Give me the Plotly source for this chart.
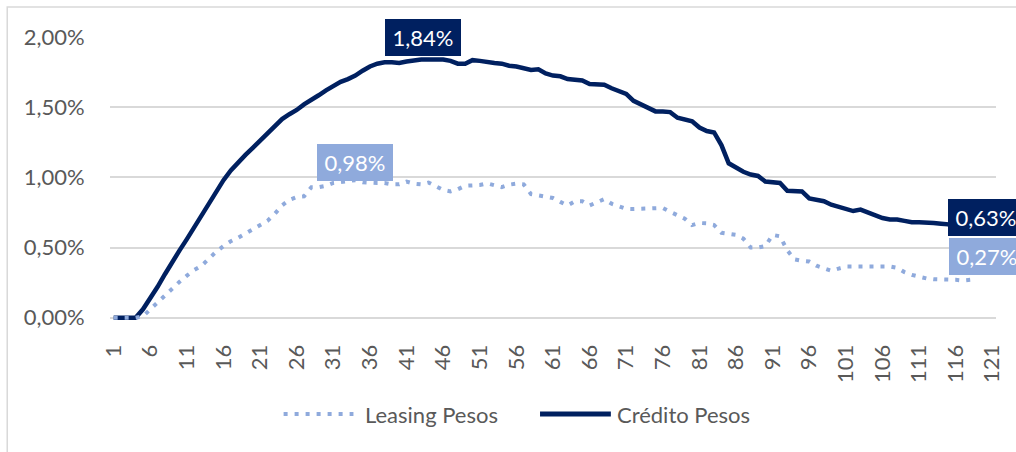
import plotly.graph_objects as go

# ---- data (values in %) ----
credito_pesos = [
    0, 0, 0, 0, 0.06, 0.135, 0.22, 0.31, 0.40, 0.48,
    0.56, 0.645, 0.73, 0.82, 0.89, 0.98, 1.05, 1.11, 1.16, 1.21,
    1.26, 1.31, 1.36, 1.415, 1.45, 1.48, 1.52, 1.55, 1.585, 1.62,
    1.65, 1.68, 1.70, 1.725, 1.76, 1.79, 1.81, 1.82, 1.82, 1.815,
    1.825, 1.835, 1.84, 1.84, 1.84, 1.84, 1.83, 1.81, 1.81, 1.835,
    1.83, 1.82, 1.815, 1.81, 1.795, 1.79, 1.775, 1.765, 1.77, 1.74,
    1.725, 1.72, 1.70, 1.695, 1.69, 1.665, 1.66, 1.66, 1.635, 1.615,
    1.595, 1.545, 1.52, 1.50, 1.47, 1.47, 1.465, 1.425, 1.41, 1.40,
    1.355, 1.33, 1.32, 1.23, 1.10, 1.07, 1.04, 1.02, 1.01, 0.97,
    0.965, 0.96, 0.905, 0.90, 0.90, 0.85, 0.837, 0.83, 0.805, 0.79,
    0.78, 0.76, 0.77, 0.75, 0.735, 0.71, 0.70, 0.70, 0.69, 0.68,
    0.68, 0.68, 0.675, 0.67, 0.665, 0.63,
]
leasing_pesos = [
    0, 0, 0, 0, 0.01, 0.06, 0.115, 0.165, 0.215, 0.256,
    0.30, 0.34, 0.37, 0.42, 0.47, 0.51, 0.545, 0.57, 0.60, 0.636,
    0.66, 0.69, 0.74, 0.80, 0.84, 0.86, 0.865, 0.93, 0.93, 0.94,
    0.96, 0.965, 0.97, 0.98, 0.965, 0.96, 0.96, 0.96, 0.95, 0.95,
    0.97, 0.955, 0.95, 0.963, 0.935, 0.91, 0.90, 0.915, 0.94, 0.94,
    0.945, 0.957, 0.945, 0.93, 0.948, 0.955, 0.95, 0.88, 0.872, 0.865,
    0.853, 0.825, 0.80, 0.83, 0.83, 0.80, 0.82, 0.845, 0.812, 0.79,
    0.775, 0.774, 0.776, 0.782, 0.784, 0.782, 0.755, 0.73, 0.705, 0.66,
    0.675, 0.672, 0.66, 0.605, 0.60, 0.59, 0.563, 0.50, 0.50, 0.51,
    0.59, 0.58, 0.48, 0.415, 0.405, 0.40, 0.37, 0.355, 0.335, 0.35,
    0.364, 0.364, 0.364, 0.364, 0.366, 0.369, 0.365, 0.355, 0.325, 0.305,
    0.29, 0.28, 0.274, 0.274, 0.273, 0.27, 0.265, 0.27,
]
credito_x = list(range(1, len(credito_pesos) + 1))
leasing_x = list(range(1, len(leasing_pesos) + 1))

x_tick_vals = list(range(1, 122, 5))
x_tick_text = [str(v) for v in x_tick_vals]
y_tick_vals = [0, 0.5, 1.0, 1.5, 2.0]
y_tick_text = ["0,00%", "0,50%", "1,00%", "1,50%", "2,00%"]

series_names = ["Leasing Pesos", "Crédito Pesos"]

NAVY = "#002060"
LIGHT = "#8FAADC"
GRAY_TXT = "#595959"
GRID = "#D9D9D9"
FONT = "Lato"


def fmt(v):
    return f"{v:.2f}".replace(".", ",") + "%"


fig = go.Figure()
fig.add_trace(go.Scatter(
    x=credito_x, y=credito_pesos, mode="lines", name=series_names[1],
    line=dict(color=NAVY, width=4.5), showlegend=False, hoverinfo="skip"))
fig.add_trace(go.Scatter(
    x=leasing_x, y=leasing_pesos, mode="lines", name=series_names[0],
    line=dict(color=LIGHT, width=4, dash="4px,7px"), showlegend=False,
    hoverinfo="skip"))

# data labels
c_max_i = max(range(len(credito_pesos)), key=lambda i: credito_pesos[i])
l_max_i = max(range(len(leasing_pesos)), key=lambda i: leasing_pesos[i])
label_font = dict(family=FONT, size=22, color="white")
common = dict(showarrow=False, font=label_font, width=68, height=29, borderpad=4,
              borderwidth=0)
fig.add_annotation(x=credito_x[c_max_i], y=credito_pesos[c_max_i], text=fmt(credito_pesos[c_max_i]),
                   bgcolor=NAVY, yanchor="bottom", yshift=3, xshift=1.5, **common)
fig.add_annotation(x=leasing_x[l_max_i], y=leasing_pesos[l_max_i], text=fmt(leasing_pesos[l_max_i]),
                   bgcolor=LIGHT, yanchor="bottom", yshift=-1, **common)
fig.add_annotation(x=credito_x[-1], y=credito_pesos[-1], text=fmt(credito_pesos[-1]),
                   bgcolor=NAVY, xanchor="left", yanchor="middle", xshift=-7.5, yshift=12, **common)
fig.add_annotation(x=leasing_x[-1], y=leasing_pesos[-1], text=fmt(leasing_pesos[-1]),
                   bgcolor=LIGHT, xanchor="left", yanchor="middle", xshift=-21.5, yshift=23, **common)

# layout geometry (pixels)
W, H = 1016, 452
ML, MR, MT, MB = 110, 18, 37, 130
PW, PH = W - ML - MR, H - MT - MB


def px_x(p):
    return (p - ML) / PW


def px_y(p):
    return (H - MB - p) / PH


# custom legend
leg_y = px_y(414)
fig.add_shape(type="line", xref="paper", yref="paper", x0=px_x(284), x1=px_x(354),
              y0=leg_y, y1=leg_y, line=dict(color=LIGHT, width=4, dash="4px,7px"))
fig.add_shape(type="line", xref="paper", yref="paper", x0=px_x(541), x1=px_x(612),
              y0=leg_y, y1=leg_y, line=dict(color=NAVY, width=5))
fig.add_annotation(xref="paper", yref="paper", x=px_x(364), y=leg_y, text=series_names[0],
                   xanchor="left", yanchor="middle", showarrow=False,
                   font=dict(family=FONT, size=22, color=GRAY_TXT))
fig.add_annotation(xref="paper", yref="paper", x=px_x(616), y=leg_y, text=series_names[1],
                   xanchor="left", yanchor="middle", showarrow=False,
                   font=dict(family=FONT, size=22, color=GRAY_TXT))

# chart border
fig.add_shape(type="rect", xref="paper", yref="paper", x0=px_x(7), x1=px_x(1030),
              y0=px_y(470), y1=px_y(7), line=dict(color=GRID, width=1.5), layer="below")

fig.update_layout(
    width=W, height=H,
    margin=dict(l=ML, r=MR, t=MT, b=MB),
    paper_bgcolor="white", plot_bgcolor="white",
    font=dict(family=FONT, size=22, color=GRAY_TXT),
    showlegend=False,
    xaxis=dict(range=[0.5, 121.5], tickmode="array", tickvals=x_tick_vals, ticktext=x_tick_text,
               tickangle=-90, showgrid=False, zeroline=False, showline=False,
               ticks="outside", ticklen=13, tickcolor="rgba(0,0,0,0)",
               tickfont=dict(family=FONT, size=22, color=GRAY_TXT)),
    yaxis=dict(range=[-0.0306, 2.0], tickmode="array", tickvals=y_tick_vals, ticktext=y_tick_text,
               showgrid=True, gridcolor=GRID, gridwidth=1.5, zeroline=False, showline=False,
               ticks="outside", ticklen=20, tickcolor="rgba(0,0,0,0)",
               tickfont=dict(family=FONT, size=22, color=GRAY_TXT)),
)

fig.write_html("out.html", config={"displayModeBar": False},
               post_script="document.body.style.margin='0';document.body.style.overflow='hidden';")
